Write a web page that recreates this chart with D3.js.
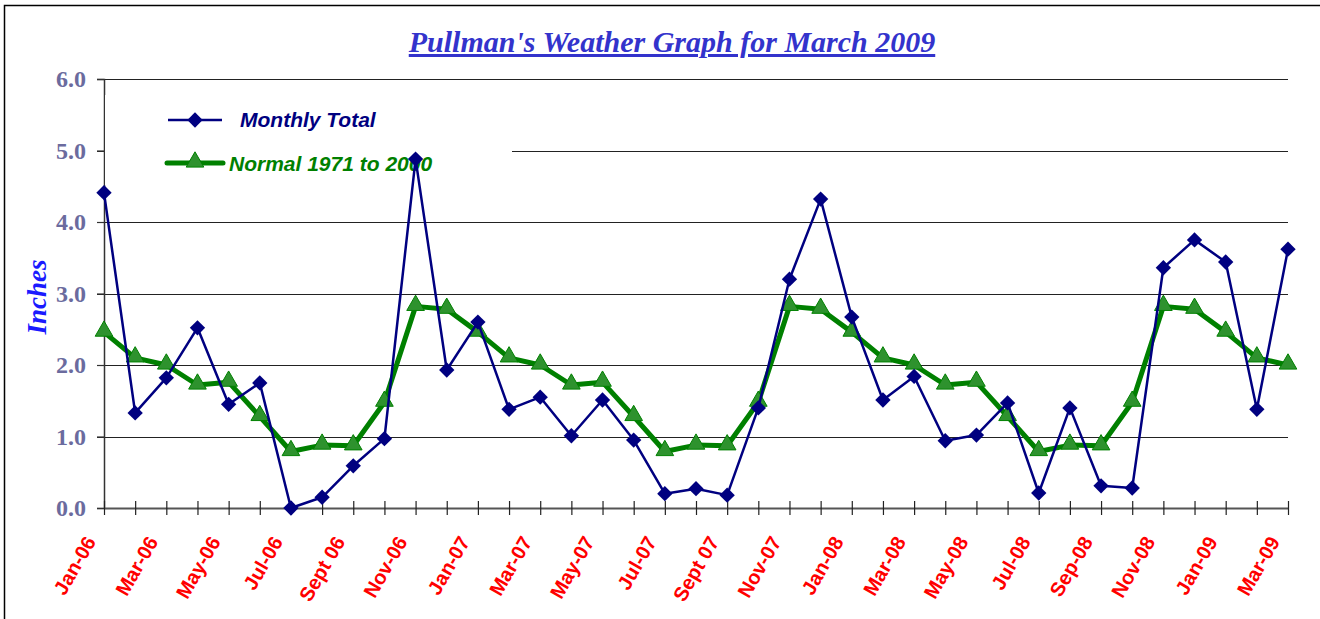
<!DOCTYPE html>
<html>
<head>
<meta charset="utf-8">
<script src="https://cdn.jsdelivr.net/npm/d3@7"></script>
<style>
  body { margin: 0; background: #fff; }
</style>
</head>
<body>
<div class="chart"></div>
<script>
var months = ["Jan-06","Feb-06","Mar-06","Apr-06","May-06","Jun-06","Jul-06","Aug-06","Sept 06","Oct-06","Nov-06","Dec-06",
              "Jan-07","Feb-07","Mar-07","Apr-07","May-07","Jun-07","Jul-07","Aug-07","Sept 07","Oct-07","Nov-07","Dec-07",
              "Jan-08","Feb-08","Mar-08","Apr-08","May-08","Jun-08","Jul-08","Aug-08","Sep-08","Oct-08","Nov-08","Dec-08",
              "Jan-09","Feb-09","Mar-09"];

var monthlyTotal = [4.41,1.33,1.82,2.52,1.45,1.75,0.00,0.15,0.59,0.97,4.88,1.93,
                    2.60,1.38,1.55,1.01,1.51,0.95,0.20,0.27,0.18,1.40,3.20,4.32,
                    2.67,1.51,1.84,0.94,1.02,1.47,0.21,1.40,0.31,0.28,3.36,3.75,
                    3.44,1.38,3.62];

var normal = [2.46,2.10,2.00,1.72,1.76,1.28,0.79,0.88,0.87,1.48,2.82,2.78,
              2.46,2.10,2.00,1.72,1.76,1.28,0.79,0.88,0.87,1.48,2.82,2.78,
              2.46,2.10,2.00,1.72,1.76,1.28,0.79,0.88,0.87,1.48,2.82,2.78,
              2.46,2.10,2.00];

var yTicks = [0,1,2,3,4,5,6];

var options = {
    width: 1320,
    height: 619,
    left: 104,
    right: 1288,
    top: 79,
    bottom: 508
};

var svg = d3.select(".chart").append("svg")
            .attr("width", options.width)
            .attr("height", options.height);

// outer frame
svg.append("rect")
    .attr("x", 4.5).attr("y", 5.5)
    .attr("width", 1330).attr("height", 640)
    .attr("fill", "#fff")
    .attr("stroke", "#000")
    .attr("stroke-width", 1.5);

var xScale = d3.scalePoint()
            .domain(months)
            .range([options.left, options.right]);

var yScale = d3.scaleLinear()
            .domain([0, 6])
            .range([options.bottom, options.top]);

// title
svg.append("text")
    .attr("x", 672)
    .attr("y", 52)
    .attr("text-anchor", "middle")
    .attr("font-family", "'Liberation Serif', 'Times New Roman', serif")
    .attr("font-size", "30px")
    .attr("font-weight", "bold")
    .attr("font-style", "italic")
    .attr("text-decoration", "underline")
    .attr("fill", "#3333cc")
    .text("Pullman's Weather Graph for March 2009");

// gridlines
svg.append("g")
    .selectAll("line")
    .data(yTicks.slice(1))
    .enter().append("line")
    .attr("x1", options.left - 7)
    .attr("x2", options.right)
    .attr("y1", function(d) { return Math.round(yScale(d)) + 0.5; })
    .attr("y2", function(d) { return Math.round(yScale(d)) + 0.5; })
    .attr("stroke", "#222")
    .attr("stroke-width", 1.2);

// y axis
var yAxis = d3.axisLeft(yScale)
            .tickValues(yTicks)
            .tickSize(7)
            .tickFormat(d3.format(".1f"));

var gy = svg.append("g")
    .attr("transform", "translate(" + options.left + ",0)")
    .call(yAxis);
gy.select(".domain").attr("stroke", "#333").attr("stroke-width", 1.5);
gy.selectAll(".tick line").attr("stroke", "#333").attr("stroke-width", 1.2);
gy.selectAll(".tick text")
    .attr("x", -18)
    .attr("font-family", "'Liberation Serif', 'Times New Roman', serif")
    .attr("font-size", "24px")
    .attr("font-weight", "bold")
    .attr("fill", "#6b6b9e");

// x axis
var xAxis = d3.axisBottom(xScale)
            .tickSizeInner(7)
            .tickSizeOuter(0)
            .tickFormat(function(d, i) { return i % 2 === 0 ? d : ""; });

var gx = svg.append("g")
    .attr("transform", "translate(0," + options.bottom + ")")
    .call(xAxis);
gx.select(".domain").attr("stroke", "#555").attr("stroke-width", 2);
gx.selectAll(".tick line")
    .attr("y1", -7)
    .attr("stroke", "#222")
    .attr("stroke-width", 1.2);
gx.selectAll(".tick text")
    .attr("y", 0)
    .attr("dy", "0.35em")
    .attr("text-anchor", "end")
    .attr("transform", "translate(-14,30) rotate(-60)")
    .attr("font-family", "'Liberation Sans', Arial, sans-serif")
    .attr("font-size", "20px")
    .attr("font-weight", "bold")
    .attr("fill", "#ff0000");

// y axis title
svg.append("text")
    .attr("transform", "translate(46,297) rotate(-90)")
    .attr("text-anchor", "middle")
    .attr("font-family", "'Liberation Serif', 'Times New Roman', serif")
    .attr("font-size", "27px")
    .attr("font-weight", "bold")
    .attr("font-style", "italic")
    .attr("fill", "#1a1aff")
    .text("Inches");

// legend box (hides part of the grid)
svg.append("rect")
    .attr("x", options.left + 1)
    .attr("y", 95)
    .attr("width", 407)
    .attr("height", 90)
    .attr("fill", "#fff");

var diamond = d3.symbol().type(d3.symbolDiamond2).size(150);
var triangle = d3.symbol().type(d3.symbolTriangle).size(135);

var leg = svg.append("g");
leg.append("line")
    .attr("x1", 168).attr("x2", 222).attr("y1", 120).attr("y2", 120)
    .attr("stroke", "#000080").attr("stroke-width", 2.5);
leg.append("path")
    .attr("d", diamond)
    .attr("transform", "translate(195,120)")
    .attr("fill", "#000080");
leg.append("text")
    .attr("x", 240).attr("y", 127)
    .attr("font-family", "'Liberation Sans', Arial, sans-serif")
    .attr("font-size", "21px")
    .attr("font-weight", "bold")
    .attr("font-style", "italic")
    .attr("fill", "#000080")
    .text("Monthly Total");

leg.append("line")
    .attr("x1", 167).attr("x2", 223).attr("y1", 163).attr("y2", 163)
    .attr("stroke", "#008000").attr("stroke-width", 5).attr("stroke-linecap", "round");
leg.append("path")
    .attr("d", triangle)
    .attr("transform", "translate(195,162)")
    .attr("fill", "#2e922e")
    .attr("stroke", "#008000")
    .attr("stroke-width", 1);
leg.append("text")
    .attr("x", 229).attr("y", 171)
    .attr("font-family", "'Liberation Sans', Arial, sans-serif")
    .attr("font-size", "21px")
    .attr("font-weight", "bold")
    .attr("font-style", "italic")
    .attr("fill", "#008000")
    .text("Normal 1971 to 2000");

// series
var line = d3.line()
    .x(function(d, i) { return xScale(months[i]); })
    .y(function(d) { return yScale(d); });

svg.append("path")
    .datum(normal)
    .attr("d", line)
    .attr("fill", "none")
    .attr("stroke", "#008000")
    .attr("stroke-width", 5)
    .attr("stroke-linejoin", "round");

svg.append("g").selectAll("path")
    .data(normal)
    .enter().append("path")
    .attr("d", triangle)
    .attr("transform", function(d, i) { return "translate(" + xScale(months[i]) + "," + (yScale(d) - 1) + ")"; })
    .attr("fill", "#2e922e")
    .attr("stroke", "#008000")
    .attr("stroke-width", 1);

svg.append("path")
    .datum(monthlyTotal)
    .attr("d", line)
    .attr("fill", "none")
    .attr("stroke", "#000080")
    .attr("stroke-width", 2.5)
    .attr("stroke-linejoin", "round");

svg.append("g").selectAll("path")
    .data(monthlyTotal)
    .enter().append("path")
    .attr("d", diamond)
    .attr("transform", function(d, i) { return "translate(" + xScale(months[i]) + "," + yScale(d) + ")"; })
    .attr("fill", "#000080");
</script>
</body>
</html>
